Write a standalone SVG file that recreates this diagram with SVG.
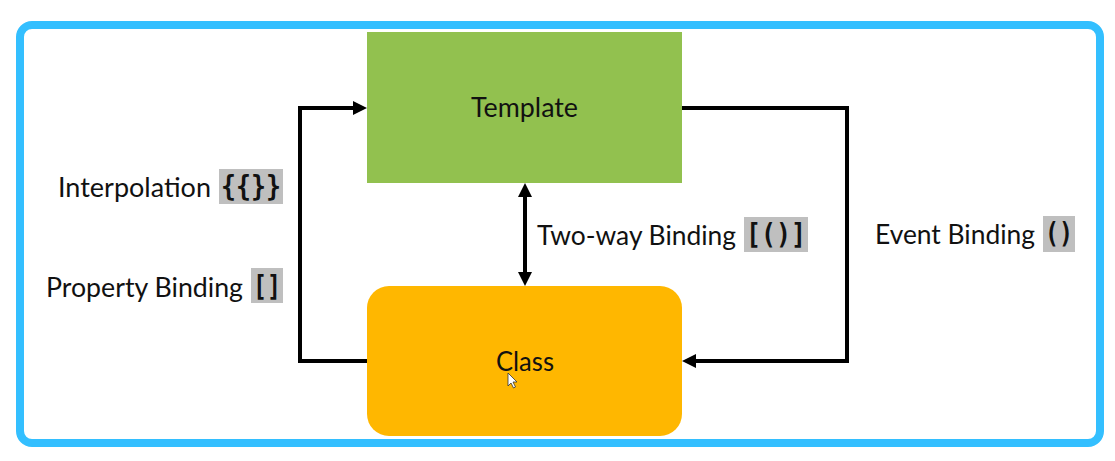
<svg xmlns="http://www.w3.org/2000/svg" width="1115" height="461" viewBox="0 0 1115 461">
  <style>
    .lbl { font-family: Lato, "Open Sans", "Liberation Sans", sans-serif; font-size: 26px; fill: #111; }
    .code { font-family: "DejaVu Sans Mono", "Liberation Mono", monospace; font-weight: bold; font-size: 28px; fill: #111; }
    .chip { fill: #BFBFBF; }
    .conn { fill: none; stroke: #000; stroke-width: 4; }
  </style>
  <defs>
    <marker id="arrow" viewBox="0 0 14 14" refX="0" refY="7" markerUnits="userSpaceOnUse" markerWidth="14" markerHeight="14" orient="auto-start-reverse">
      <path d="M0,0 L14,7 L0,14 z" fill="#000"/>
    </marker>
  </defs>
  <rect x="0" y="0" width="1115" height="461" fill="#fff"/>
  <rect id="frame" x="20" y="25" width="1080" height="418" rx="12" fill="#fff" stroke="#33BFFF" stroke-width="8"/>

  <g id="connectors">
    <path class="conn" d="M367,361 L300,361 L300,108 L353,108" marker-end="url(#arrow)"/>
    <path class="conn" d="M682,108 L847,108 L847,361 L696,361" marker-end="url(#arrow)"/>
    <path class="conn" d="M525,197 L525,272" marker-start="url(#arrow)" marker-end="url(#arrow)"/>
  </g>

  <g id="template">
    <rect x="367" y="32" width="315" height="151" fill="#92C14F"/>
    <text class="lbl" x="524.5" y="117" text-anchor="middle" textLength="107" lengthAdjust="spacingAndGlyphs">Template</text>
  </g>

  <g id="class">
    <rect x="367" y="286" width="315" height="150" rx="22" fill="#FFB700"/>
    <text class="lbl" x="525" y="371" text-anchor="middle" textLength="58" lengthAdjust="spacingAndGlyphs">Class</text>
    <path d="M508,373 L508,386 L511,383 L513.5,388 L515.5,387 L513,382 L517,382 Z" fill="#fff" stroke="#333" stroke-width="0.8"/>
  </g>

  <g id="label-interpolation">
    <text class="lbl" x="58" y="197" textLength="153" lengthAdjust="spacingAndGlyphs">Interpolation</text>
    <rect class="chip" x="219" y="169" width="64" height="35"/>
    <text class="code" x="251" y="196" text-anchor="middle" textLength="60" lengthAdjust="spacingAndGlyphs">{{}}</text>
  </g>

  <g id="label-property">
    <text class="lbl" x="46" y="297" textLength="197" lengthAdjust="spacingAndGlyphs">Property Binding</text>
    <rect class="chip" x="251" y="268" width="32" height="35"/>
    <text class="code" x="267" y="296" text-anchor="middle" textLength="28" lengthAdjust="spacingAndGlyphs">[]</text>
  </g>

  <g id="label-twoway">
    <text class="lbl" x="537" y="245" textLength="199" lengthAdjust="spacingAndGlyphs">Two-way Binding</text>
    <rect class="chip" x="744" y="217" width="64" height="35"/>
    <text class="code" x="776" y="244" text-anchor="middle" textLength="60" lengthAdjust="spacingAndGlyphs">[()]</text>
  </g>

  <g id="label-event">
    <text class="lbl" x="875" y="244" textLength="160" lengthAdjust="spacingAndGlyphs">Event Binding</text>
    <rect class="chip" x="1043" y="216" width="32" height="36"/>
    <text class="code" x="1059" y="243" text-anchor="middle" textLength="28" lengthAdjust="spacingAndGlyphs">()</text>
  </g>
</svg>
